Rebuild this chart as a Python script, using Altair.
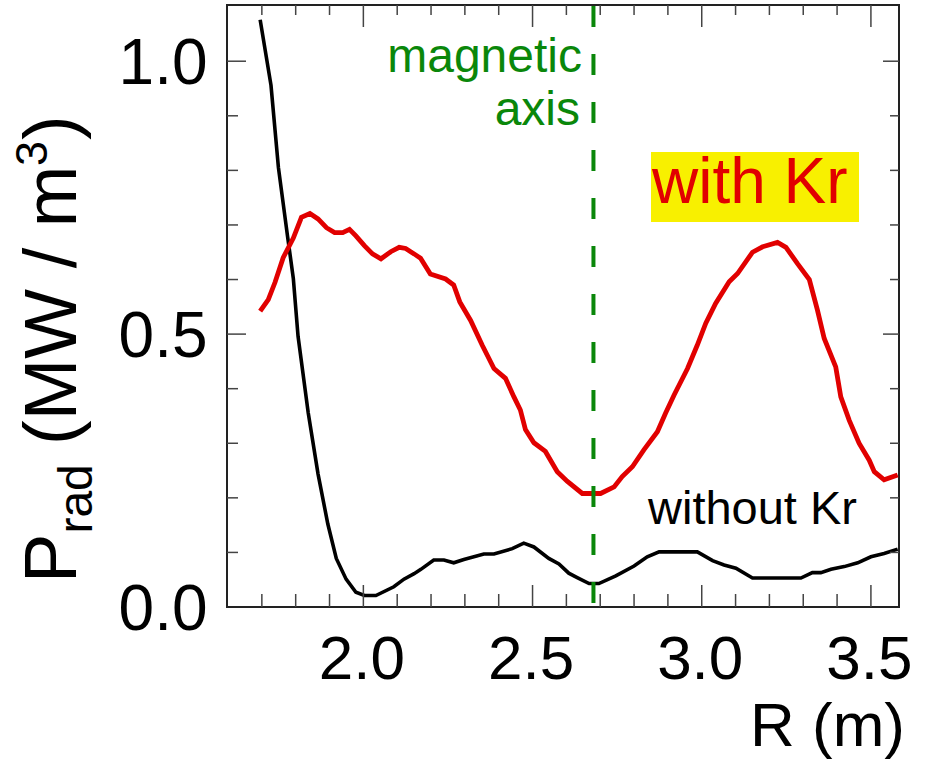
import altair as alt
import pandas as pd

# ---- data ----
R_no_kr = [1.695, 1.727, 1.749, 1.776, 1.793, 1.807, 1.837, 1.866, 1.895, 1.920, 1.949, 1.978,
           2.003, 2.037, 2.090, 2.120, 2.150, 2.170, 2.208, 2.238, 2.267, 2.297, 2.356, 2.386,
           2.440, 2.474, 2.504, 2.548, 2.578, 2.607, 2.632, 2.667, 2.696, 2.746, 2.800, 2.839,
           2.874, 2.987, 3.032, 3.066, 3.101, 3.150, 3.293, 3.327, 3.352, 3.382, 3.421, 3.461,
           3.500, 3.539, 3.579]
P_no_kr = [1.076, 0.956, 0.805, 0.679, 0.602, 0.496, 0.356, 0.244, 0.152, 0.089, 0.051, 0.027,
           0.021, 0.021, 0.037, 0.051, 0.061, 0.069, 0.086, 0.086, 0.081, 0.087, 0.097, 0.097,
           0.107, 0.117, 0.110, 0.089, 0.079, 0.062, 0.054, 0.043, 0.043, 0.057, 0.075, 0.092,
           0.101, 0.101, 0.085, 0.077, 0.071, 0.053, 0.053, 0.063, 0.063, 0.069, 0.074, 0.081,
           0.092, 0.098, 0.106]

R_kr = [1.695, 1.719, 1.739, 1.763, 1.793, 1.817, 1.842, 1.866, 1.891, 1.915, 1.939, 1.959,
        1.978, 2.003, 2.027, 2.052, 2.081, 2.106, 2.125, 2.150, 2.169, 2.198, 2.243, 2.267,
        2.285, 2.317, 2.351, 2.386, 2.420, 2.445, 2.464, 2.479, 2.504, 2.538, 2.573, 2.603,
        2.647, 2.701, 2.741, 2.765, 2.795, 2.829, 2.869, 2.893, 2.918, 2.958, 2.987, 3.012,
        3.041, 3.081, 3.106, 3.150, 3.180, 3.224, 3.249, 3.283, 3.318, 3.342, 3.362, 3.396,
        3.411, 3.436, 3.465, 3.495, 3.510, 3.539, 3.579]
P_kr = [0.542, 0.563, 0.595, 0.640, 0.676, 0.714, 0.721, 0.711, 0.695, 0.686, 0.686, 0.692,
        0.680, 0.662, 0.647, 0.638, 0.651, 0.659, 0.657, 0.647, 0.639, 0.610, 0.601, 0.590,
        0.559, 0.525, 0.480, 0.437, 0.419, 0.385, 0.361, 0.325, 0.301, 0.285, 0.248, 0.230,
        0.208, 0.208, 0.220, 0.239, 0.257, 0.288, 0.321, 0.355, 0.388, 0.437, 0.480, 0.520,
        0.556, 0.596, 0.611, 0.650, 0.660, 0.668, 0.659, 0.629, 0.600, 0.544, 0.492, 0.440,
        0.385, 0.342, 0.300, 0.269, 0.248, 0.233, 0.242]

R_magnetic_axis = [2.68]

x_labels = [2.0, 2.5, 3.0, 3.5]
y_labels = [0.0, 0.5, 1.0]
x_major = [2.0, 2.5, 3.0, 3.5]
x_minor = [1.7, 1.8, 1.9, 2.1, 2.2, 2.3, 2.4, 2.6, 2.7, 2.8, 2.9, 3.1, 3.2, 3.3, 3.4]
y_major = [0.5, 1.0]
y_minor = [0.1, 0.2, 0.3, 0.4, 0.6, 0.7, 0.8, 0.9]

# ---- style ----
W, H = 672, 602
FONT = "Liberation Sans"
RED = "#e10000"
GREEN = "#0a870a"
YELLOW = "#f8f000"
TICK = "#444444"

xscale = alt.Scale(domain=[1.597, 3.583], nice=False, zero=False)
yscale = alt.Scale(domain=[0, 1.103], nice=False, zero=False)
xaxis = alt.Axis(values=x_labels, format=".1f", grid=False, ticks=False, tickSize=0, domain=False,
                 labelFontSize=62, labelFont=FONT, labelColor="black", labelPadding=22,
                 labelOffset=-2, labelFlush=False, labelOverlap=False)
yaxis = alt.Axis(values=y_labels, format=".1f", grid=False, ticks=False, tickSize=0, domain=False,
                 labelFontSize=64, labelFont=FONT, labelColor="black", labelPadding=20,
                 labelOffset=3, labelFlush=False, labelOverlap=False)


def xenc(f):
    return alt.X(f, type="quantitative", scale=xscale, axis=xaxis, title="")


def yenc(f):
    return alt.Y(f, type="quantitative", scale=yscale, axis=yaxis, title="")


def one(txt):
    return pd.DataFrame({"t": [txt]})


def label(txt, x, y, size, color="black", align="left", angle=0):
    return alt.Chart(one(txt)).mark_text(
        align=align, baseline="alphabetic", angle=angle, font=FONT, fontSize=size, color=color
    ).encode(x=alt.value(x), y=alt.value(y), text="t:N")


layers = []

# lines
layers.append(alt.Chart(pd.DataFrame({"R": R_no_kr, "P": P_no_kr})).mark_line(
    color="black", strokeWidth=3.6).encode(x=xenc("R"), y=yenc("P")))
layers.append(alt.Chart(pd.DataFrame({"R": R_kr, "P": P_kr})).mark_line(
    color=RED, strokeWidth=4.8).encode(x=xenc("R"), y=yenc("P")))

# magnetic axis
layers.append(alt.Chart(pd.DataFrame({"R": R_magnetic_axis})).mark_rule(
    color=GREEN, strokeWidth=4, strokeDash=[21, 27], strokeDashOffset=44
).encode(x=xenc("R"), y=alt.value(H), y2=alt.value(0)))

# ticks (inward)
def xticks(vals, y0, y1):
    return alt.Chart(pd.DataFrame({"v": vals})).mark_rule(color=TICK, strokeWidth=1.5).encode(
        x=xenc("v"), y=alt.value(y0), y2=alt.value(y1))


def yticks(vals, x0, x1):
    return alt.Chart(pd.DataFrame({"v": vals})).mark_rule(color=TICK, strokeWidth=1.5).encode(
        y=yenc("v"), x=alt.value(x0), x2=alt.value(x1))


layers += [
    xticks(x_minor, H, H - 13), xticks(x_major, H, H - 22),
    xticks(x_minor, 0, 10), xticks(x_major, 0, 22),
    yticks(y_minor, 0, 11), yticks(y_major, 0, 19),
    yticks(y_minor, W, W - 9), yticks(y_major, W, W - 16),
]

# annotations
layers.append(alt.Chart(one("box")).mark_rect(color=YELLOW).encode(
    x=alt.value(424), x2=alt.value(632), y=alt.value(147), y2=alt.value(217)))
layers.append(label("with Kr", 425, 198, 64, color=RED))
layers.append(label("magnetic", 355, 67, 48, color=GREEN, align="right"))
layers.append(label("axis", 353, 120, 48, color=GREEN, align="right"))
layers.append(label("without Kr", 421, 519, 47))
layers.append(label("R (m)", 678, 741, 62, align="right"))

# y title: P_rad (MW / m^3)
layers.append(label("P", -151, 578, 74, angle=270))
layers.append(label("rad", -135, 528.6, 48, angle=270))
layers.append(label("(MW / m", -151, 440, 74, angle=270))
layers.append(label("3", -180, 161, 45, angle=270))
layers.append(label(")", -151, 135, 74, angle=270))

chart = alt.layer(*layers).properties(
    width=W, height=H,
    padding={"left": 227, "top": 5, "right": 32, "bottom": 152},
    autosize="none",
    background="white",
).configure_view(stroke="#222222", strokeWidth=2)

chart.save("out.html", embed_options={"renderer": "svg", "actions": False})
